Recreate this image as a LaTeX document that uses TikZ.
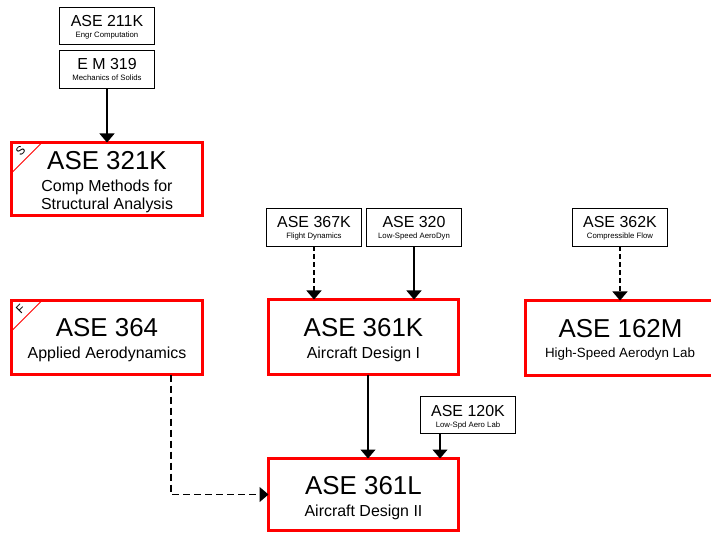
\documentclass[tikz,border=0pt]{standalone}
\usepackage{fontspec}
\setmainfont{Liberation Sans}
\usetikzlibrary{arrows.meta,calc}
\tikzset{
  smallbox/.style={draw=black, line width=1.2bp, minimum width=94.8bp, minimum height=37.5bp, inner sep=0pt, outer sep=0pt},
  bigbox/.style={draw=red, line width=3bp, minimum width=190bp, minimum height=74bp, inner sep=0pt, outer sep=0pt},
  stitle/.style={font=\fontsize{16}{18}\selectfont, anchor=base, inner sep=0pt},
  ssub/.style={font=\fontsize{7.8}{9}\selectfont, anchor=base, inner sep=0pt},
  btitle/.style={font=\fontsize{26}{30}\selectfont, anchor=base, inner sep=0pt},
  bsub/.style={font=\fontsize{16}{18}\selectfont, anchor=base, inner sep=0pt},
  corner/.style={draw=red, line width=0.9bp},
  cornerlbl/.style={font=\fontsize{12}{14}\selectfont, rotate=45, inner sep=0pt},
  arr/.style={line width=1.2bp, -{Triangle[width=15bp,length=9bp]}},
  darr/.style={arr, dash pattern=on 5bp off 3bp},
}
\begin{document}
\begin{tikzpicture}[x=1bp,y=-1bp]
\useasboundingbox (0,0) rectangle (711,534);
\clip (0,0) rectangle (711,534);

% small boxes
\node[smallbox] (b211) at (107,26) {};
\node[stitle] (t211) at (107,27) {ASE 211K};
\node[ssub] (s211) at (107,38) {Engr Computation};

\node[smallbox, minimum height=38bp] (b319) at (107,69.5) {};
\node[stitle] (t319) at (107,70) {E M 319};
\node[ssub] (s319) at (107,81) {Mechanics of Solids};

\node[smallbox] (b367) at (314,227.5) {};
\node[stitle] (t367) at (314,228) {ASE 367K};
\node[ssub] (s367) at (314,239) {Flight Dynamics};

\node[smallbox] (b320) at (414,227.5) {};
\node[stitle] (t320) at (414,228) {ASE 320};
\node[ssub] (s320) at (414,239) {Low-Speed AeroDyn};

\node[smallbox] (b362) at (620,227.5) {};
\node[stitle] (t362) at (620,228) {ASE 362K};
\node[ssub] (s362) at (620,239) {Compressible Flow};

\node[smallbox] (b120) at (468,415) {};
\node[stitle] (t120) at (468,416) {ASE 120K};
\node[ssub] (s120) at (468,427) {Low-Spd Aero Lab};

% big boxes
\node[bigbox, minimum height=73bp] (b321) at (107,179) {};
\node[btitle] (t321) at (107,170) {ASE 321K};
\node[bsub] (s321a) at (107,192) {Comp Methods for};
\node[bsub] (s321b) at (107,210) {Structural Analysis};
\draw[corner] (b321.north west) ++(30,0) -- ++(-30,30);
\node[cornerlbl] (c321) at (20.5,150.5) {S};

\node[bigbox] (b364) at (107,337.5) {};
\node[btitle] (t364) at (107,336) {ASE 364};
\node[bsub] (s364) at (107,358) {Applied Aerodynamics};
\draw[corner] (b364.north west) ++(30,0) -- ++(-30,30);
\node[cornerlbl] (c364) at (20.5,309) {F};

\node[bigbox, minimum width=190bp, minimum height=75bp] (b361k) at (363.5,337) {};
\node[btitle] (t361k) at (363.5,336) {ASE 361K};
\node[bsub] (s361k) at (363.5,358) {Aircraft Design I};

\node[bigbox, minimum width=190bp, minimum height=75bp] (b162) at (620.5,338) {};
\node[btitle] (t162) at (620.5,337.5) {ASE 162M};
\node[bsub, font=\fontsize{13.4}{16}\selectfont] (s162) at (620,357.5) {High-Speed Aerodyn Lab};

\node[bigbox, minimum width=190bp, minimum height=72bp] (b361l) at (363.5,494.5) {};
\node[btitle] (t361l) at (363.5,494) {ASE 361L};
\node[bsub] (s361l) at (363.5,516) {Aircraft Design II};

% connectors
\draw[arr] (b319.south) -- (b319.south |- b321.north);
\draw[darr] (b367.south) -- (b367.south |- b361k.north);
\draw[arr] (b320.south) -- (b320.south |- b361k.north);
\draw[darr] (b362.south) -- (b362.south |- b162.north);
\draw[arr] ([xshift=4.5bp]b361k.south) -- ([xshift=4.5bp]b361k.south |- b361l.north);
\draw[arr] ([xshift=-28bp]b120.south) -- ([xshift=-28bp]b120.south |- b361l.north);
\draw[darr, dash pattern=on 7bp off 4bp] ([xshift=64bp]b364.south) |- (b361l.west);
\end{tikzpicture}
\end{document}
